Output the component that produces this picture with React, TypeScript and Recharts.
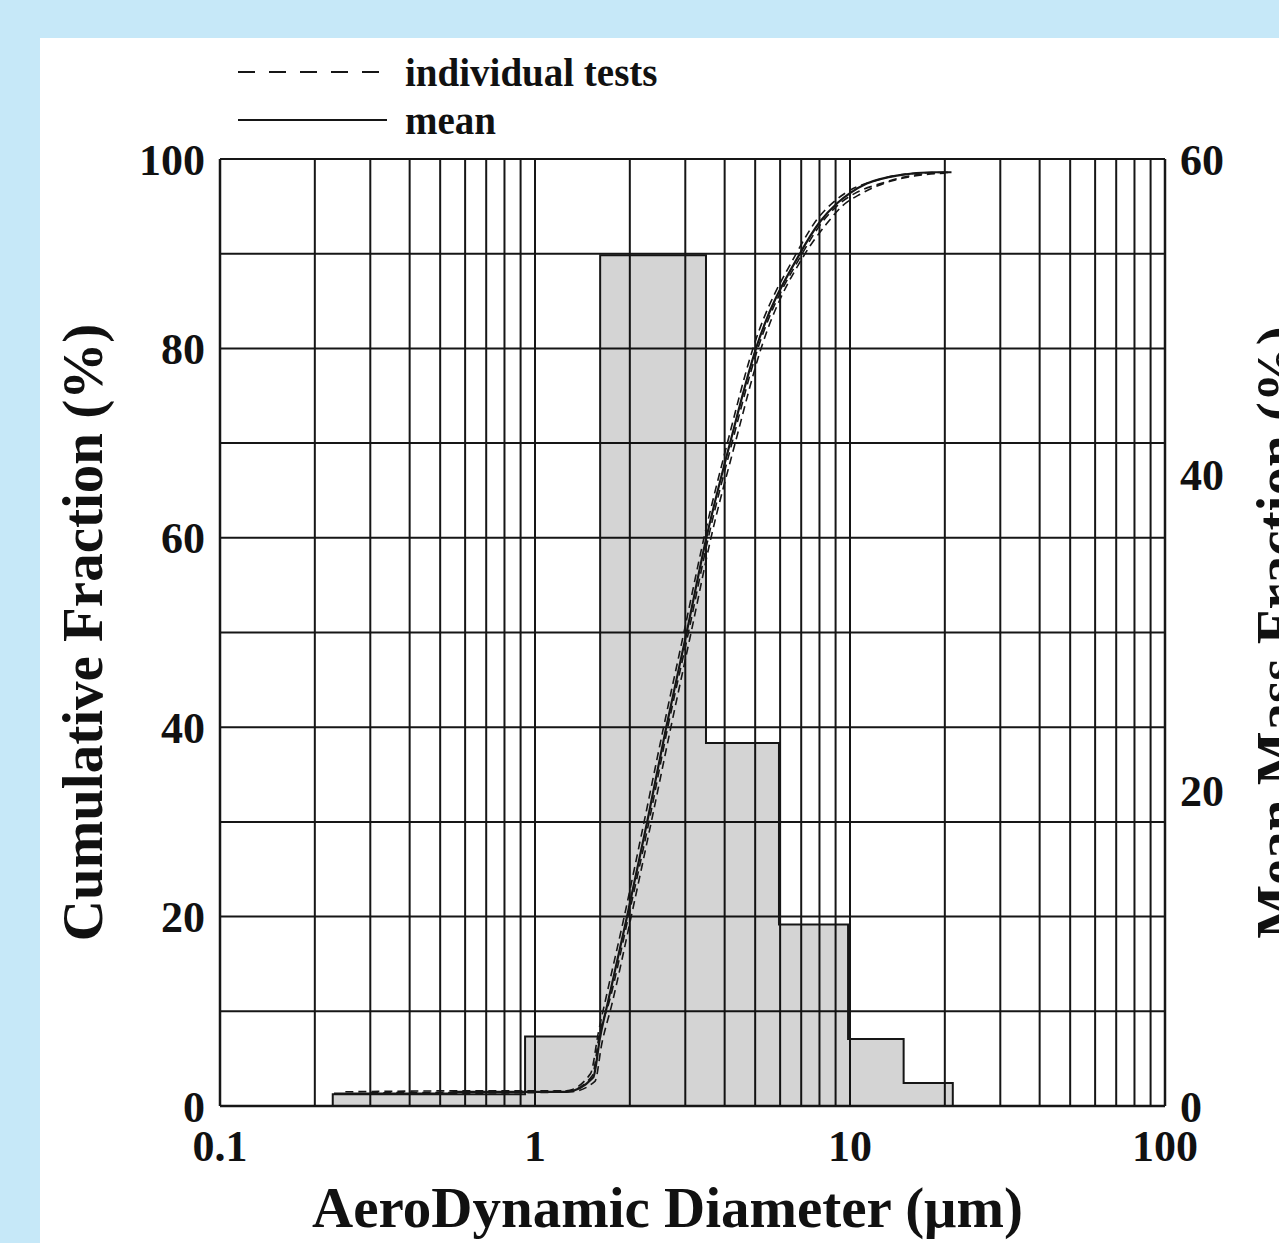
import React from 'react';
import { ComposedChart, Area, Line, XAxis, YAxis, CartesianGrid } from 'recharts';

// histogram bins (mean mass fraction, right axis)
const binEdges = [0.228, 0.93, 1.61, 3.49, 5.95, 9.86, 14.8, 21.2];
const binMass = [0.75, 4.4, 53.9, 23.0, 11.5, 4.25, 1.46];

// cumulative curves (left axis)
const meanDiam = [0.23, 0.52, 0.56, 1.26, 1.53, 1.61, 1.71, 1.96, 2.27, 2.61, 3.03, 3.5, 4.16, 5.03, 6.93, 8.04, 9.08, 10, 11.3, 14.4, 18.3, 21];
const meanCum = [1.3, 1.3, 1.5, 1.5, 3.0, 7.3, 11.2, 20, 30, 40, 50, 60, 70, 80, 90, 93.4, 95.3, 96.4, 97.4, 98.3, 98.6, 98.6];

const testADiam = [0.25, 0.6, 1.25, 1.5, 1.59, 1.69, 1.92, 2.22, 2.56, 2.97, 3.44, 4.08, 4.92, 6.75, 7.85, 8.9, 10, 12, 15, 20];
const testACum = [1.5, 1.6, 1.6, 3.4, 7.8, 11.8, 20, 30, 40, 50, 60, 70, 80, 90, 93.6, 95.5, 96.7, 97.7, 98.4, 98.6];

const testBDiam = [0.25, 0.9, 1.3, 1.55, 1.63, 1.75, 2.02, 2.34, 2.7, 3.13, 3.62, 4.32, 5.22, 7.2, 8.4, 9.5, 10.8, 13, 16, 20];
const testBCum = [1.3, 1.4, 1.5, 2.6, 6.6, 10.6, 20, 30, 40, 50, 60, 70, 80, 90, 93.1, 95.1, 96.3, 97.5, 98.2, 98.5];

const testCDiam = [0.3, 1.0, 1.28, 1.52, 1.6, 1.72, 1.98, 2.3, 2.64, 3.07, 3.55, 4.22, 5.1, 7.05, 8.15, 9.2, 10.4, 12.5, 16, 21];
const testCCum = [1.4, 1.5, 1.6, 3.2, 7.5, 11, 20, 30, 40, 50, 60, 70, 80, 90, 93.3, 95.2, 96.4, 97.4, 98.3, 98.6];

const xTicks = [0.1, 0.2, 0.3, 0.4, 0.5, 0.6, 0.7, 0.8, 0.9, 1, 2, 3, 4, 5, 6, 7, 8, 9, 10, 20, 30, 40, 50, 60, 70, 80, 90, 100];
const xLabels = [0.1, 1, 10, 100];
const leftTicks = [0, 10, 20, 30, 40, 50, 60, 70, 80, 90, 100];
const rightTicks = [0, 20, 40, 60];

const toPoints = (xs: number[], ys: number[]) => xs.map((d, i) => ({ d, c: ys[i] }));

const histData = [
  { d: binEdges[0], m: 0 },
  ...binMass.map((m, i) => ({ d: binEdges[i], m })),
  { d: binEdges[binEdges.length - 1], m: binMass[binMass.length - 1] },
  { d: binEdges[binEdges.length - 1], m: 0 },
];

const serif = '"Liberation Serif", "Times New Roman", serif';
const tickStyle = { fill: '#111', fontSize: 44, fontWeight: 700, fontFamily: serif };
const titleStyle = { fontSize: 57, fontWeight: 700, fontFamily: serif, fill: '#111' };
const ink = '#161616';

export default function App() {
  const tests = [toPoints(testADiam, testACum), toPoints(testBDiam, testBCum), toPoints(testCDiam, testCCum)];
  return (
    <div style={{ position: 'absolute', left: 0, top: 0, width: 1279, height: 1243, overflow: 'hidden', background: '#c6e8f8' }}>
      <div style={{ position: 'absolute', left: 40, top: 38, right: 0, bottom: 0, background: '#fff' }} />
      <div style={{ position: 'absolute', left: 0, top: 0 }}>
        <ComposedChart width={1330} height={1243} margin={{ top: 159, right: 0, bottom: 0, left: 0 }}>
          <CartesianGrid stroke={ink} strokeWidth={2} />
          <XAxis
            dataKey="d"
            type="number"
            scale="log"
            domain={[0.1, 100]}
            allowDataOverflow
            ticks={xTicks}
            interval={0}
            height={137}
            tickLine={false}
            tickSize={0}
            tickMargin={24}
            axisLine={{ stroke: ink, strokeWidth: 2.5 }}
            tick={tickStyle}
            tickFormatter={(v: number) => (xLabels.includes(v) ? String(v) : '')}
            label={{ value: 'AeroDynamic Diameter (μm)', position: 'insideBottom', offset: 16, dx: -25, style: titleStyle }}
          />
          <YAxis
            type="number"
            domain={[0, 100]}
            ticks={leftTicks}
            interval={0}
            width={220}
            tickLine={false}
            tickSize={0}
            tickMargin={15}
            axisLine={{ stroke: ink, strokeWidth: 2.5 }}
            tick={tickStyle}
            tickFormatter={(v: number) => (v % 20 === 0 ? String(v) : '')}
            label={{ value: 'Cumulative Fraction (%)', angle: -90, position: 'insideLeft', offset: 82, style: { ...titleStyle, textAnchor: 'middle' } }}
          />
          <YAxis
            yAxisId="right"
            orientation="right"
            type="number"
            domain={[0, 60]}
            ticks={rightTicks}
            interval={0}
            width={165}
            tickLine={false}
            tickSize={0}
            tickMargin={15}
            axisLine={{ stroke: ink, strokeWidth: 2.5 }}
            tick={{ ...tickStyle, textAnchor: 'start' }}
            label={{ value: 'Mean Mass Fraction (%)', angle: -90, position: 'insideRight', offset: 54, style: { ...titleStyle, textAnchor: 'middle' } }}
          />
          <Area
            data={histData}
            dataKey="m"
            yAxisId="right"
            type="stepAfter"
            stroke={ink}
            strokeWidth={2}
            fill="#000"
            fillOpacity={0.17}
            legendType="none"
            isAnimationActive={false}
          />
          {tests.map((t, i) => (
            <Line
              key={i}
              data={t}
              dataKey="c"
              type="monotone"
              stroke={ink}
              strokeWidth={1.6}
              strokeDasharray="8 5"
              dot={false}
              activeDot={false}
              isAnimationActive={false}
            />
          ))}
          <Line
            data={toPoints(meanDiam, meanCum)}
            dataKey="c"
            type="monotone"
            stroke={ink}
            strokeWidth={2.2}
            dot={false}
            activeDot={false}
            isAnimationActive={false}
          />
        </ComposedChart>
      </div>
      <div style={{ position: 'absolute', left: 238, top: 48, fontFamily: serif, fontWeight: 700, fontSize: 39, color: '#111' }}>
        <div style={{ display: 'flex', alignItems: 'center', height: 48 }}>
          <svg width={150} height={10}>
            <line x1={0} y1={5} x2={145} y2={5} stroke={ink} strokeWidth={2.2} strokeDasharray="17 14" />
          </svg>
          <span style={{ marginLeft: 17 }}>individual tests</span>
        </div>
        <div style={{ display: 'flex', alignItems: 'center', height: 48 }}>
          <svg width={150} height={10}>
            <line x1={0} y1={5} x2={149} y2={5} stroke={ink} strokeWidth={2.2} />
          </svg>
          <span style={{ marginLeft: 17 }}>mean</span>
        </div>
      </div>
    </div>
  );
}
